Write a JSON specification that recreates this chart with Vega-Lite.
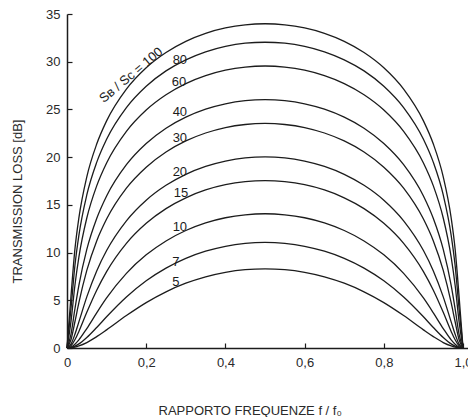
{
  "$schema": "https://vega.github.io/schema/vega-lite/v6.json",
  "width": 401,
  "height": 334,
  "autosize": "none",
  "padding": {"left": 67, "top": 14, "right": 0, "bottom": 69},
  "background": "white",
  "config": {
    "view": {"stroke": null},
    "font": "Liberation Sans",
    "axis": {"grid": false}
  },
  "datasets": {
    "curves": [
      {"m":100,"x":0,"y":0},{"m":100,"x":0.01,"y":5.40},{"m":100,"x":0.02,"y":10.36},{"m":100,"x":0.03,"y":13.64},{"m":100,"x":0.05,"y":17.94},{"m":100,"x":0.075,"y":21.37},{"m":100,"x":0.1,"y":23.80},{"m":100,"x":0.15,"y":27.13},{"m":100,"x":0.2,"y":29.37},{"m":100,"x":0.25,"y":30.97},{"m":100,"x":0.3,"y":32.14},{"m":100,"x":0.35,"y":32.98},{"m":100,"x":0.4,"y":33.54},{"m":100,"x":0.45,"y":33.87},{"m":100,"x":0.5,"y":33.98},{"m":100,"x":0.55,"y":33.87},{"m":100,"x":0.6,"y":33.54},{"m":100,"x":0.65,"y":32.98},{"m":100,"x":0.7,"y":32.14},{"m":100,"x":0.75,"y":30.97},{"m":100,"x":0.8,"y":29.37},{"m":100,"x":0.85,"y":27.13},{"m":100,"x":0.9,"y":23.80},{"m":100,"x":0.925,"y":21.37},{"m":100,"x":0.95,"y":17.94},{"m":100,"x":0.97,"y":13.64},{"m":100,"x":0.98,"y":10.36},{"m":100,"x":0.99,"y":5.40},{"m":100,"x":1,"y":0},
      {"m":80,"x":0,"y":0},{"m":80,"x":0.01,"y":4.11},{"m":80,"x":0.02,"y":8.64},{"m":80,"x":0.03,"y":11.81},{"m":80,"x":0.05,"y":16.04},{"m":80,"x":0.075,"y":19.45},{"m":80,"x":0.1,"y":21.87},{"m":80,"x":0.15,"y":25.19},{"m":80,"x":0.2,"y":27.43},{"m":80,"x":0.25,"y":29.04},{"m":80,"x":0.3,"y":30.20},{"m":80,"x":0.35,"y":31.04},{"m":80,"x":0.4,"y":31.61},{"m":80,"x":0.45,"y":31.94},{"m":80,"x":0.5,"y":32.04},{"m":80,"x":0.55,"y":31.94},{"m":80,"x":0.6,"y":31.61},{"m":80,"x":0.65,"y":31.04},{"m":80,"x":0.7,"y":30.20},{"m":80,"x":0.75,"y":29.04},{"m":80,"x":0.8,"y":27.43},{"m":80,"x":0.85,"y":25.19},{"m":80,"x":0.9,"y":21.87},{"m":80,"x":0.925,"y":19.45},{"m":80,"x":0.95,"y":16.04},{"m":80,"x":0.97,"y":11.81},{"m":80,"x":0.98,"y":8.64},{"m":80,"x":0.99,"y":4.11},{"m":80,"x":1,"y":0},
      {"m":60,"x":0,"y":0},{"m":60,"x":0.01,"y":2.76},{"m":60,"x":0.02,"y":6.58},{"m":60,"x":0.03,"y":9.53},{"m":60,"x":0.05,"y":13.62},{"m":60,"x":0.075,"y":16.99},{"m":60,"x":0.1,"y":19.39},{"m":60,"x":0.15,"y":22.70},{"m":60,"x":0.2,"y":24.94},{"m":60,"x":0.25,"y":26.54},{"m":60,"x":0.3,"y":27.71},{"m":60,"x":0.35,"y":28.54},{"m":60,"x":0.4,"y":29.11},{"m":60,"x":0.45,"y":29.44},{"m":60,"x":0.5,"y":29.55},{"m":60,"x":0.55,"y":29.44},{"m":60,"x":0.6,"y":29.11},{"m":60,"x":0.65,"y":28.54},{"m":60,"x":0.7,"y":27.71},{"m":60,"x":0.75,"y":26.54},{"m":60,"x":0.8,"y":24.94},{"m":60,"x":0.85,"y":22.70},{"m":60,"x":0.9,"y":19.39},{"m":60,"x":0.925,"y":16.99},{"m":60,"x":0.95,"y":13.62},{"m":60,"x":0.97,"y":9.53},{"m":60,"x":0.98,"y":6.58},{"m":60,"x":0.99,"y":2.76},{"m":60,"x":1,"y":0},
      {"m":40,"x":0,"y":0},{"m":40,"x":0.01,"y":1.44},{"m":40,"x":0.02,"y":4.11},{"m":40,"x":0.03,"y":6.57},{"m":40,"x":0.05,"y":10.33},{"m":40,"x":0.075,"y":13.57},{"m":40,"x":0.1,"y":15.93},{"m":40,"x":0.15,"y":19.21},{"m":40,"x":0.2,"y":21.43},{"m":40,"x":0.25,"y":23.03},{"m":40,"x":0.3,"y":24.19},{"m":40,"x":0.35,"y":25.03},{"m":40,"x":0.4,"y":25.59},{"m":40,"x":0.45,"y":25.92},{"m":40,"x":0.5,"y":26.03},{"m":40,"x":0.55,"y":25.92},{"m":40,"x":0.6,"y":25.59},{"m":40,"x":0.65,"y":25.03},{"m":40,"x":0.7,"y":24.19},{"m":40,"x":0.75,"y":23.03},{"m":40,"x":0.8,"y":21.43},{"m":40,"x":0.85,"y":19.21},{"m":40,"x":0.9,"y":15.93},{"m":40,"x":0.925,"y":13.57},{"m":40,"x":0.95,"y":10.33},{"m":40,"x":0.97,"y":6.57},{"m":40,"x":0.98,"y":4.11},{"m":40,"x":0.99,"y":1.44},{"m":40,"x":1,"y":0},
      {"m":30,"x":0,"y":0},{"m":30,"x":0.01,"y":0.87},{"m":30,"x":0.02,"y":2.75},{"m":30,"x":0.03,"y":4.75},{"m":30,"x":0.05,"y":8.13},{"m":30,"x":0.075,"y":11.22},{"m":30,"x":0.1,"y":13.51},{"m":30,"x":0.15,"y":16.75},{"m":30,"x":0.2,"y":18.95},{"m":30,"x":0.25,"y":20.54},{"m":30,"x":0.3,"y":21.70},{"m":30,"x":0.35,"y":22.53},{"m":30,"x":0.4,"y":23.10},{"m":30,"x":0.45,"y":23.42},{"m":30,"x":0.5,"y":23.53},{"m":30,"x":0.55,"y":23.42},{"m":30,"x":0.6,"y":23.10},{"m":30,"x":0.65,"y":22.53},{"m":30,"x":0.7,"y":21.70},{"m":30,"x":0.75,"y":20.54},{"m":30,"x":0.8,"y":18.95},{"m":30,"x":0.85,"y":16.75},{"m":30,"x":0.9,"y":13.51},{"m":30,"x":0.925,"y":11.22},{"m":30,"x":0.95,"y":8.13},{"m":30,"x":0.97,"y":4.75},{"m":30,"x":0.98,"y":2.75},{"m":30,"x":0.99,"y":0.87},{"m":30,"x":1,"y":0},
      {"m":20,"x":0,"y":0},{"m":20,"x":0.01,"y":0.41},{"m":20,"x":0.02,"y":1.44},{"m":20,"x":0.03,"y":2.74},{"m":20,"x":0.05,"y":5.36},{"m":20,"x":0.075,"y":8.08},{"m":20,"x":0.1,"y":10.21},{"m":20,"x":0.15,"y":13.33},{"m":20,"x":0.2,"y":15.49},{"m":20,"x":0.25,"y":17.05},{"m":20,"x":0.3,"y":18.20},{"m":20,"x":0.35,"y":19.03},{"m":20,"x":0.4,"y":19.59},{"m":20,"x":0.45,"y":19.92},{"m":20,"x":0.5,"y":20.02},{"m":20,"x":0.55,"y":19.92},{"m":20,"x":0.6,"y":19.59},{"m":20,"x":0.65,"y":19.03},{"m":20,"x":0.7,"y":18.20},{"m":20,"x":0.75,"y":17.05},{"m":20,"x":0.8,"y":15.49},{"m":20,"x":0.85,"y":13.33},{"m":20,"x":0.9,"y":10.21},{"m":20,"x":0.925,"y":8.08},{"m":20,"x":0.95,"y":5.36},{"m":20,"x":0.97,"y":2.74},{"m":20,"x":0.98,"y":1.44},{"m":20,"x":0.99,"y":0.41},{"m":20,"x":1,"y":0},
      {"m":15,"x":0,"y":0},{"m":15,"x":0.01,"y":0.23},{"m":15,"x":0.02,"y":0.86},{"m":15,"x":0.03,"y":1.74},{"m":15,"x":0.05,"y":3.74},{"m":15,"x":0.075,"y":6.06},{"m":15,"x":0.1,"y":8.01},{"m":15,"x":0.15,"y":10.97},{"m":15,"x":0.2,"y":13.07},{"m":15,"x":0.25,"y":14.61},{"m":15,"x":0.3,"y":15.74},{"m":15,"x":0.35,"y":16.56},{"m":15,"x":0.4,"y":17.11},{"m":15,"x":0.45,"y":17.43},{"m":15,"x":0.5,"y":17.54},{"m":15,"x":0.55,"y":17.43},{"m":15,"x":0.6,"y":17.11},{"m":15,"x":0.65,"y":16.56},{"m":15,"x":0.7,"y":15.74},{"m":15,"x":0.75,"y":14.61},{"m":15,"x":0.8,"y":13.07},{"m":15,"x":0.85,"y":10.97},{"m":15,"x":0.9,"y":8.01},{"m":15,"x":0.925,"y":6.06},{"m":15,"x":0.95,"y":3.74},{"m":15,"x":0.97,"y":1.74},{"m":15,"x":0.98,"y":0.86},{"m":15,"x":0.99,"y":0.23},{"m":15,"x":1,"y":0},
      {"m":10,"x":0,"y":0},{"m":10,"x":0.01,"y":0.10},{"m":10,"x":0.02,"y":0.40},{"m":10,"x":0.03,"y":0.85},{"m":10,"x":0.05,"y":2.04},{"m":10,"x":0.075,"y":3.68},{"m":10,"x":0.1,"y":5.24},{"m":10,"x":0.15,"y":7.82},{"m":10,"x":0.2,"y":9.76},{"m":10,"x":0.25,"y":11.22},{"m":10,"x":0.3,"y":12.31},{"m":10,"x":0.35,"y":13.11},{"m":10,"x":0.4,"y":13.65},{"m":10,"x":0.45,"y":13.96},{"m":10,"x":0.5,"y":14.07},{"m":10,"x":0.55,"y":13.96},{"m":10,"x":0.6,"y":13.65},{"m":10,"x":0.65,"y":13.11},{"m":10,"x":0.7,"y":12.31},{"m":10,"x":0.75,"y":11.22},{"m":10,"x":0.8,"y":9.76},{"m":10,"x":0.85,"y":7.82},{"m":10,"x":0.9,"y":5.24},{"m":10,"x":0.925,"y":3.68},{"m":10,"x":0.95,"y":2.04},{"m":10,"x":0.97,"y":0.85},{"m":10,"x":0.98,"y":0.40},{"m":10,"x":0.99,"y":0.10},{"m":10,"x":1,"y":0},
      {"m":7,"x":0,"y":0},{"m":7,"x":0.01,"y":0.05},{"m":7,"x":0.02,"y":0.20},{"m":7,"x":0.03,"y":0.43},{"m":7,"x":0.05,"y":1.10},{"m":7,"x":0.075,"y":2.15},{"m":7,"x":0.1,"y":3.27},{"m":7,"x":0.15,"y":5.34},{"m":7,"x":0.2,"y":7.04},{"m":7,"x":0.25,"y":8.37},{"m":7,"x":0.3,"y":9.39},{"m":7,"x":0.35,"y":10.14},{"m":7,"x":0.4,"y":10.66},{"m":7,"x":0.45,"y":10.96},{"m":7,"x":0.5,"y":11.06},{"m":7,"x":0.55,"y":10.96},{"m":7,"x":0.6,"y":10.66},{"m":7,"x":0.65,"y":10.14},{"m":7,"x":0.7,"y":9.39},{"m":7,"x":0.75,"y":8.37},{"m":7,"x":0.8,"y":7.04},{"m":7,"x":0.85,"y":5.34},{"m":7,"x":0.9,"y":3.27},{"m":7,"x":0.925,"y":2.15},{"m":7,"x":0.95,"y":1.10},{"m":7,"x":0.97,"y":0.43},{"m":7,"x":0.98,"y":0.20},{"m":7,"x":0.99,"y":0.05},{"m":7,"x":1,"y":0},
      {"m":5,"x":0,"y":0},{"m":5,"x":0.01,"y":0.02},{"m":5,"x":0.02,"y":0.10},{"m":5,"x":0.03,"y":0.22},{"m":5,"x":0.05,"y":0.57},{"m":5,"x":0.075,"y":1.19},{"m":5,"x":0.1,"y":1.90},{"m":5,"x":0.15,"y":3.40},{"m":5,"x":0.2,"y":4.76},{"m":5,"x":0.25,"y":5.89},{"m":5,"x":0.3,"y":6.79},{"m":5,"x":0.35,"y":7.46},{"m":5,"x":0.4,"y":7.93},{"m":5,"x":0.45,"y":8.21},{"m":5,"x":0.5,"y":8.30},{"m":5,"x":0.55,"y":8.21},{"m":5,"x":0.6,"y":7.93},{"m":5,"x":0.65,"y":7.46},{"m":5,"x":0.7,"y":6.79},{"m":5,"x":0.75,"y":5.89},{"m":5,"x":0.8,"y":4.76},{"m":5,"x":0.85,"y":3.40},{"m":5,"x":0.9,"y":1.90},{"m":5,"x":0.925,"y":1.19},{"m":5,"x":0.95,"y":0.57},{"m":5,"x":0.97,"y":0.22},{"m":5,"x":0.98,"y":0.10},{"m":5,"x":0.99,"y":0.02},{"m":5,"x":1,"y":0}
    ],
    "labels": [
      {"label":"80","x":0.285,"y":30.18},
      {"label":"60","x":0.283,"y":27.87},
      {"label":"40","x":0.285,"y":24.73},
      {"label":"30","x":0.285,"y":22.0},
      {"label":"20","x":0.285,"y":18.44},
      {"label":"15","x":0.288,"y":16.24},
      {"label":"10","x":0.285,"y":12.68},
      {"label":"7","x":0.275,"y":9.01},
      {"label":"5","x":0.275,"y":6.92}
    ],
    "main": [
      {"label":"Sʙ / Sᴄ = 100","x":0.162,"y":28.6}
    ]
  },
  "layer": [
    {
      "data": {"name": "curves"},
      "mark": {"type": "line", "interpolate": "monotone", "color": "#1c1c1c", "strokeWidth": 1.3},
      "encoding": {
        "x": {
          "field": "x", "type": "quantitative",
          "scale": {"domain": [0, 1.0125], "nice": false, "zero": false},
          "axis": {
            "values": [0, 0.2, 0.4, 0.6, 0.8, 1],
            "labelExpr": "datum.value == 0 ? '0' : replace(format(datum.value, '.1f'), '.', ',')",
            "title": "RAPPORTO FREQUENZE f / f₀",
            "titleFont": "Liberation Sans", "titleFontSize": 13, "titleFontWeight": "normal", "titleColor": "#2a2a2a",
            "titleAnchor": "start", "titleX": 91, "titleY": 66, "titleAlign": "left", "titleBaseline": "alphabetic",
            "labelFont": "Liberation Sans", "labelFontSize": 13, "labelColor": "#2a2a2a", "labelPadding": 13,
            "labelFlush": false, "labelOverlap": false,
            "domainColor": "#1c1c1c", "domainWidth": 1.5,
            "tickColor": "#1c1c1c", "tickSize": -5, "tickWidth": 1.2
          }
        },
        "y": {
          "field": "y", "type": "quantitative",
          "scale": {"domain": [0, 35], "nice": false},
          "axis": {
            "values": [0, 5, 10, 15, 20, 25, 30, 35],
            "title": "TRANSMISSION LOSS [dB]",
            "titleFont": "Liberation Sans", "titleFontSize": 13, "titleFontWeight": "normal", "titleColor": "#2a2a2a",
            "titleAngle": 270, "titleX": -50, "titleY": 187, "titleAlign": "center", "titleBaseline": "middle",
            "labelFont": "Liberation Sans", "labelFontSize": 13, "labelColor": "#2a2a2a", "labelPadding": 12,
            "labelFlush": false, "labelOverlap": false,
            "domainColor": "#1c1c1c", "domainWidth": 1.5,
            "tickColor": "#1c1c1c", "tickSize": -5, "tickWidth": 1.2
          }
        },
        "detail": {"field": "m", "type": "nominal"}
      }
    },
    {
      "mark": {"type": "rule", "color": "#1c1c1c", "strokeWidth": 1.5},
      "encoding": {"y": {"datum": 35}}
    },
    {
      "data": {"name": "labels"},
      "mark": {"type": "text", "font": "Liberation Sans", "fontSize": 13, "color": "#1c1c1c", "align": "center", "baseline": "middle"},
      "encoding": {
        "x": {"field": "x", "type": "quantitative"},
        "y": {"field": "y", "type": "quantitative"},
        "text": {"field": "label"}
      }
    },
    {
      "data": {"name": "main"},
      "mark": {"type": "text", "font": "Liberation Sans", "fontSize": 13, "color": "#1c1c1c", "align": "center", "baseline": "middle", "angle": -40},
      "encoding": {
        "x": {"field": "x", "type": "quantitative"},
        "y": {"field": "y", "type": "quantitative"},
        "text": {"field": "label"}
      }
    }
  ]
}
